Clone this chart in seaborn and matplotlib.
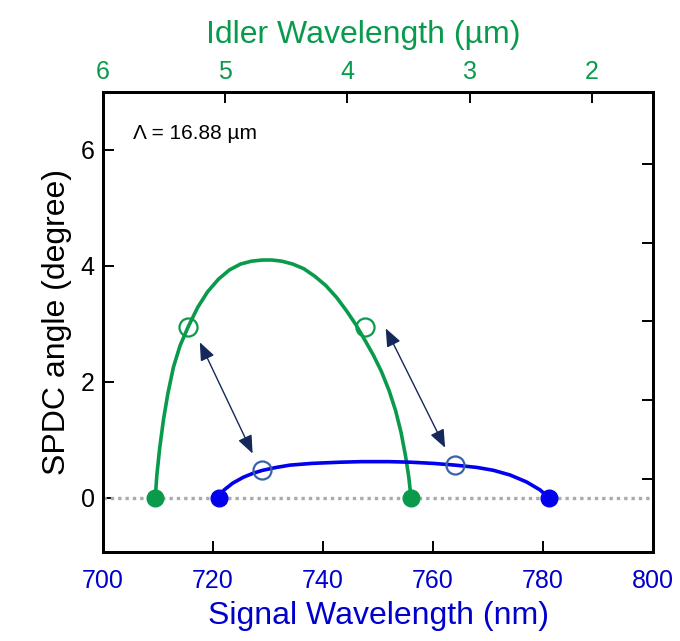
import numpy as np
import pandas as pd
import matplotlib
matplotlib.use("Agg")
import matplotlib.pyplot as plt
import seaborn as sns

# ---- data ----
green_x = [709.5, 709.8, 710.3, 711.0, 711.8, 712.8, 714.0, 715.5, 717.2, 719.0,
           721.0, 723.0, 725.0, 727.0, 729.0, 730.7, 732.5, 734.5, 736.5, 738.5,
           740.5, 742.5, 744.3, 746.0, 747.6, 749.2, 750.6, 752.0, 753.2, 754.2,
           755.0, 755.6, 756.0]
green_y = [0.00, 0.40, 0.85, 1.35, 1.80, 2.25, 2.62, 2.95, 3.28, 3.55,
           3.77, 3.93, 4.03, 4.08, 4.10, 4.10, 4.08, 4.03, 3.95, 3.82,
           3.66, 3.45, 3.22, 2.98, 2.72, 2.45, 2.18, 1.85, 1.50, 1.12,
           0.72, 0.35, 0.00]

blue_x = [721.1, 722.0, 723.6, 725.5, 727.3, 729.0, 731.5, 734.0, 738.0, 743.0,
          747.0, 752.0, 756.0, 760.0, 764.0, 768.0, 771.0, 774.0, 777.0, 779.5, 781.0]
blue_y = [0.00, 0.13, 0.25, 0.35, 0.42, 0.47, 0.52, 0.56, 0.59, 0.61,
          0.62, 0.62, 0.61, 0.59, 0.56, 0.52, 0.47, 0.39, 0.27, 0.13, 0.00]

green_end_x = [709.5, 756.0]
blue_end_x = [721.1, 781.0]
end_y = [0.0, 0.0]

green_open_x = [715.5, 747.6]
green_open_y = [2.95, 2.95]
blue_open_x = [728.9, 764.0]
blue_open_y = [0.47, 0.56]

arrow_start = [(717.6, 2.68), (751.4, 2.92)]
arrow_end = [(727.2, 0.76), (762.2, 0.86)]

signal_ticks = [700, 720, 740, 760, 780, 800]
idler_ticks = [6, 5, 4, 3, 2]
angle_ticks = [0, 2, 4, 6]
right_ticks = [0.32, 1.68, 3.05, 4.40, 5.76]
period_label = "Λ = 16.88 µm"

GREEN = "#0a9a4c"
BLUE = "#0000ee"
BLUE_TXT = "#0000cc"
BLUE_OPEN = "#3a62a8"
NAVY = "#14285a"

sns.set_style("ticks")
plt.rcParams["font.family"] = ["Liberation Sans", "DejaVu Sans"]
plt.rcParams["text.color"] = "black"
plt.rcParams["axes.labelcolor"] = "black"
plt.rcParams["axes.edgecolor"] = "black"
plt.rcParams["xtick.color"] = "black"
plt.rcParams["ytick.color"] = "black"

fig = plt.figure(figsize=(6.8, 6.41), dpi=100)
ax = fig.add_axes([0.1515, 0.1388, 0.8088, 0.7177])

# zero reference line
ax.plot([700, 800], [0, 0], ls=(0, (1, 1.2)), color="#aaaaaa", lw=2.4, zorder=1)

gdf = pd.DataFrame({"x": green_x, "y": green_y})
bdf = pd.DataFrame({"x": blue_x, "y": blue_y})
sns.lineplot(data=gdf, x="x", y="y", sort=False, color=GREEN, lw=2.6, ax=ax, zorder=3)
sns.lineplot(data=bdf, x="x", y="y", sort=False, color=BLUE, lw=2.6, ax=ax, zorder=3)

ax.plot(green_end_x, end_y, "o", ms=12, color=GREEN, zorder=5)
ax.plot(blue_end_x, end_y, "o", ms=12, color=BLUE, zorder=5)
ax.plot(green_open_x, green_open_y, "o", ms=13, mfc="none", mec=GREEN, mew=1.6, zorder=5)
ax.plot(blue_open_x, blue_open_y, "o", ms=13, mfc="none", mec=BLUE_OPEN, mew=1.6, zorder=5)

for s, e in zip(arrow_start, arrow_end):
    ax.annotate("", xy=e, xytext=s,
                arrowprops=dict(arrowstyle="<|-|>,head_length=1.1,head_width=0.45",
                                color=NAVY, lw=1.0, shrinkA=0, shrinkB=0), zorder=4)

ax.set_xlim(700, 800)
ax.set_ylim(-0.94, 7.0)
ax.set_xticks(signal_ticks)
ax.set_yticks(angle_ticks)
ax.tick_params(axis="both", direction="in", length=8, width=1.4, labelsize=18,
               pad=6, labelcolor="black", color="black")
ax.tick_params(axis="x", labelcolor=BLUE_TXT, pad=12)
ax.set_xlabel("Signal Wavelength (nm)", color=BLUE_TXT, fontsize=23, labelpad=6)
ax.set_ylabel("SPDC angle (degree)", color="black", fontsize=23, labelpad=6)
for sp in ax.spines.values():
    sp.set_linewidth(2.0)
    sp.set_color("black")
    sp.set_visible(True)

ax.text(0.055, 0.91, period_label, transform=ax.transAxes, fontsize=15, va="center", ha="left")

# top idler axis (linear, reversed)
axt = ax.twiny()
axt.set_xlim(6.0, 1.5)
axt.set_xticks(idler_ticks)
axt.tick_params(axis="x", direction="in", length=8, width=1.4, labelsize=18,
                labelcolor=GREEN, color="black", pad=5.5)
axt.set_xlabel("Idler Wavelength (µm)", color=GREEN, fontsize=23)
axt.xaxis.label.set_va("bottom")
axt.xaxis.set_label_coords(0.473, 1.0 + 42 / 460)

# right axis ticks (no labels)
axr = ax.twinx()
axr.set_ylim(ax.get_ylim())
axr.set_yticks(right_ticks)
axr.set_yticklabels([])
axr.tick_params(axis="y", direction="in", length=8, width=1.4, color="black")
for a in (axt, axr):
    for sp in a.spines.values():
        sp.set_linewidth(2.0)
        sp.set_color("black")

fig.savefig("out.png", dpi=100, facecolor="white")
